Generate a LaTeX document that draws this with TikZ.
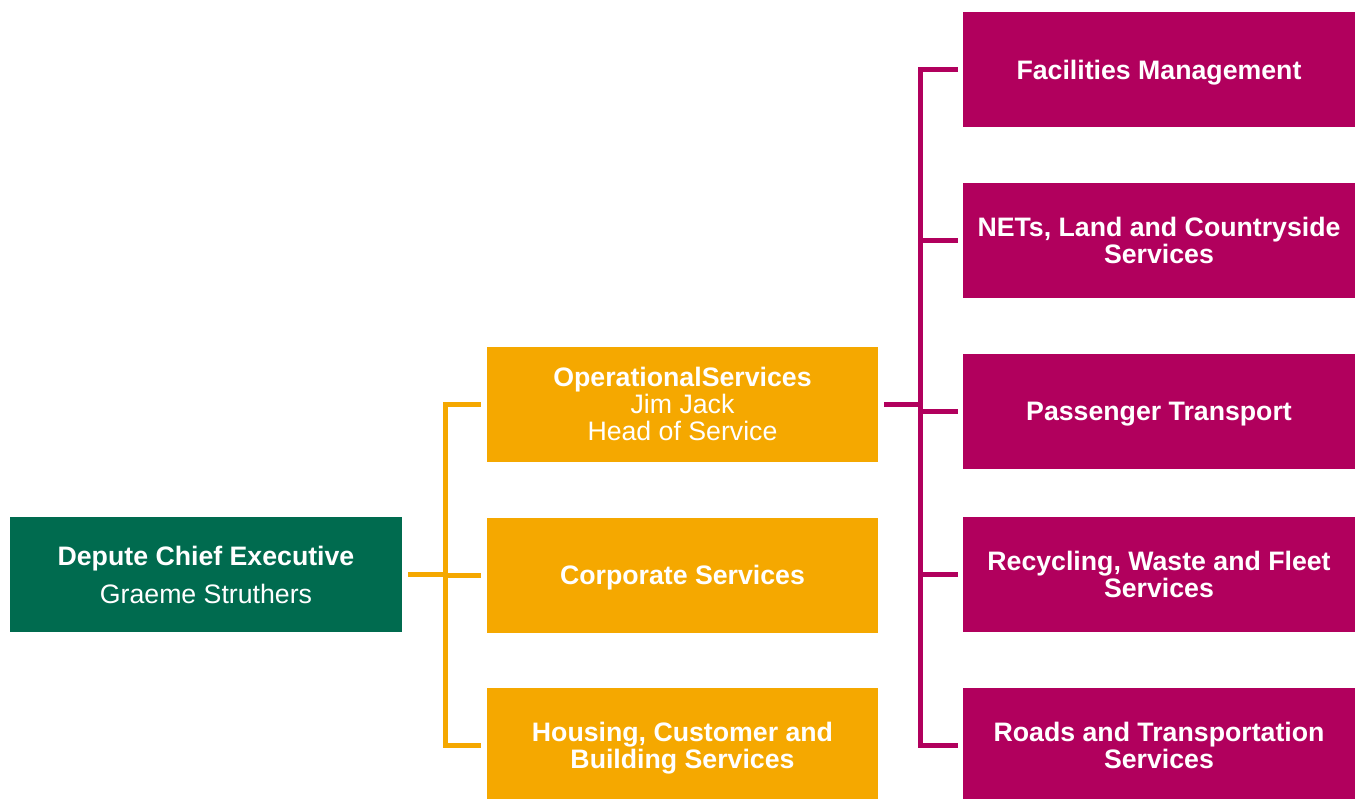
\documentclass[tikz,border=0pt]{standalone}
\usepackage{fontspec}
\setmainfont{Liberation Sans}
\definecolor{dgreen}{HTML}{006B4F}
\definecolor{orng}{HTML}{F5A800}
\definecolor{mgnt}{HTML}{B1005D}
\begin{document}
\begin{tikzpicture}[x=1pt,y=-1pt,
  box/.style={minimum width=392pt,minimum height=115pt,inner sep=0pt,text depth=0pt,text=white,align=center,font=\bfseries\fontsize{26.7}{27.3}\selectfont},
  gbox/.style={box,fill=dgreen},
  obox/.style={box,fill=orng,minimum width=391pt},
  mbox/.style={box,fill=mgnt},
  oline/.style={draw=orng,line width=5pt},
  mline/.style={draw=mgnt,line width=5pt}]
\useasboundingbox (0,0) rectangle (1360,798);
\clip (0,0) rectangle (1360,798);
% boxes
\node[gbox] (dce) at (206,574.5) {Depute Chief Executive\\[10.5pt]\mdseries Graeme Struthers};
\node[obox] (ops) at (682.5,404) {OperationalServices\\\mdseries Jim Jack\\\mdseries Head of Service};
\node[obox] (cs) at (682.5,575) {Corporate Services};
\node[obox] (hcb) at (682.5,745.5) {Housing, Customer and\\Building Services};
\node[mbox] (fm) at (1159,69.5) {Facilities Management};
\node[mbox] (nets) at (1159,240.5) {NETs, Land and Countryside\\Services};
\node[mbox] (pt) at (1159,411.5) {Passenger Transport};
\node[mbox] (rwf) at (1159,574.5) {Recycling, Waste and Fleet\\Services};
\node[mbox] (rts) at (1159,745.5) {Roads and Transportation\\Services};
% orange connectors
\coordinate (ob) at (445,575);
\draw[oline] ([xshift=6pt]dce.east) -- (dce.east -| ob);
\draw[oline] ([xshift=-6pt]ops.west) -- (ops.west -| ob) -- (hcb.west -| ob) -- ([xshift=-6pt]hcb.west);
\draw[oline] (cs.west -| ob) -- ([xshift=-6pt]cs.west);
% magenta connectors
\coordinate (mb) at (920.5,404);
\draw[mline] ([xshift=6pt]ops.east) -- (mb);
\draw[mline] ([xshift=-5pt]fm.west) -- (fm.west -| mb) -- (rts.west -| mb) -- ([xshift=-5pt]rts.west);
\draw[mline] (nets.west -| mb) -- ([xshift=-5pt]nets.west);
\draw[mline] (pt.west -| mb) -- ([xshift=-5pt]pt.west);
\draw[mline] (rwf.west -| mb) -- ([xshift=-5pt]rwf.west);
\end{tikzpicture}
\end{document}
